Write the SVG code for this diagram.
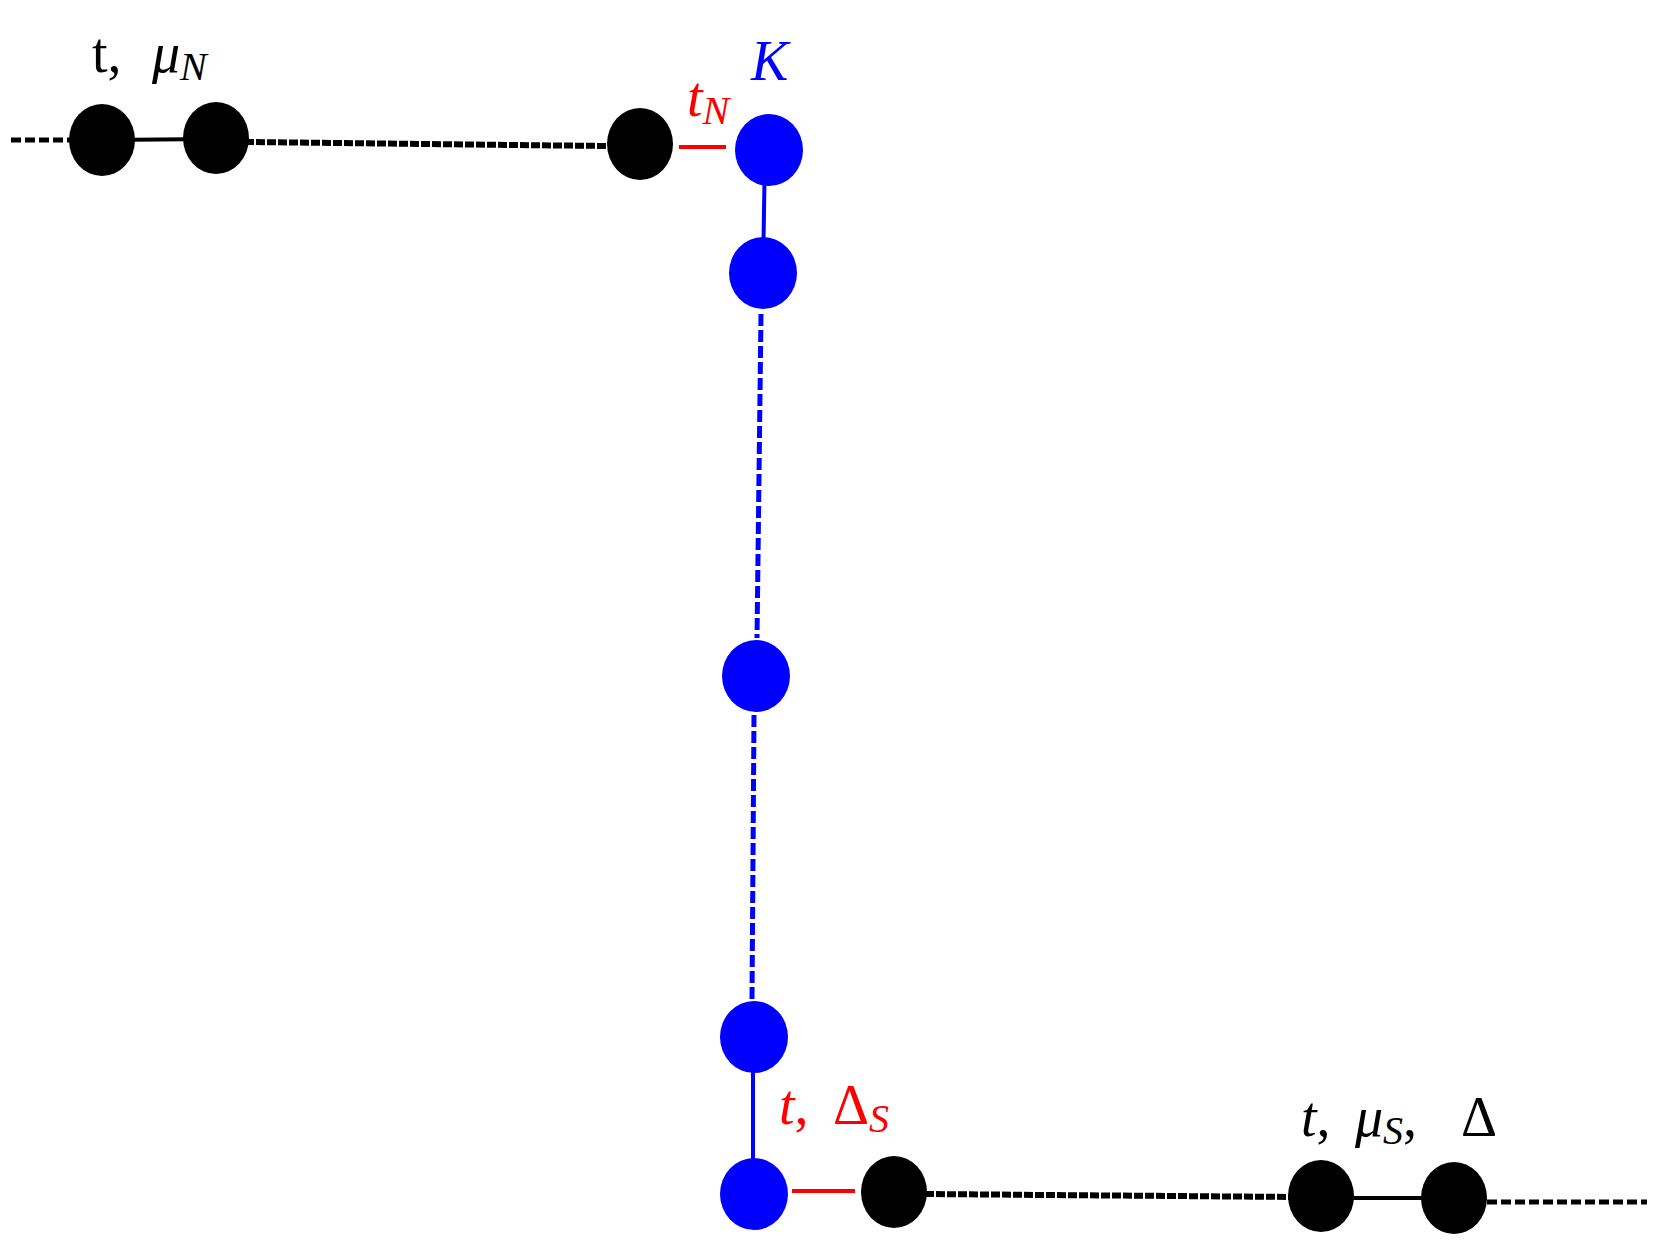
<svg xmlns="http://www.w3.org/2000/svg" width="1664" height="1256" viewBox="0 0 1664 1256">
<style>
.k{fill:#000}.b{fill:#0000ff}
.t{font-family:"Liberation Serif",serif;font-size:56px}
.i{font-style:italic}
.s{font-size:40px;font-style:italic}
</style>
<rect width="1664" height="1256" fill="#fff"/>
<g transform="translate(-5,-4)">
<g id="connectors" fill="none">
<line x1="16" y1="144" x2="75" y2="144" stroke="#000" stroke-width="5" stroke-dasharray="10,4"/>
<line x1="107" y1="144" x2="221" y2="143" stroke="#000" stroke-width="4"/>
<line x1="250" y1="146" x2="612" y2="150" stroke="#000" stroke-width="6" stroke-dasharray="9,2"/>
<line x1="684" y1="151" x2="731" y2="151" stroke="#f00" stroke-width="4"/>
<line x1="770" y1="154" x2="768" y2="277" stroke="#00f" stroke-width="4"/>
<line x1="766" y1="318" x2="762" y2="642" stroke="#00f" stroke-width="5" stroke-dasharray="12,4"/>
<line x1="759" y1="719" x2="757" y2="1003" stroke="#00f" stroke-width="5" stroke-dasharray="12,4"/>
<line x1="758" y1="1041" x2="758" y2="1198" stroke="#00f" stroke-width="4"/>
<line x1="797" y1="1195" x2="860" y2="1195" stroke="#f00" stroke-width="4"/>
<line x1="930" y1="1198" x2="1300" y2="1201" stroke="#000" stroke-width="6" stroke-dasharray="9,2"/>
<line x1="1326" y1="1202" x2="1459" y2="1202" stroke="#000" stroke-width="4"/>
<line x1="1492" y1="1206" x2="1652" y2="1206" stroke="#000" stroke-width="5" stroke-dasharray="10,4"/>
</g>
<g id="n1"><ellipse class="k" cx="107" cy="144" rx="33" ry="36"/></g>
<g id="n2"><ellipse class="k" cx="221" cy="142" rx="33" ry="36"/></g>
<g id="n3"><ellipse class="k" cx="645" cy="148" rx="33" ry="36"/></g>
<g id="b1"><ellipse class="b" cx="774" cy="154" rx="34" ry="36"/></g>
<g id="b2"><ellipse class="b" cx="768" cy="277" rx="34" ry="36"/></g>
<g id="b3"><ellipse class="b" cx="761" cy="680" rx="34" ry="36"/></g>
<g id="b4"><ellipse class="b" cx="759" cy="1041" rx="34" ry="36"/></g>
<g id="b5"><ellipse class="b" cx="759" cy="1198" rx="34" ry="36"/></g>
<g id="n4"><ellipse class="k" cx="899" cy="1196" rx="33" ry="36"/></g>
<g id="n5"><ellipse class="k" cx="1326" cy="1200" rx="33" ry="36"/></g>
<g id="n6"><ellipse class="k" cx="1459" cy="1202" rx="33" ry="36"/></g>
<g id="labels">
<text class="t" x="97" y="76">t,<tspan class="i" x="157">μ</tspan><tspan class="s" dy="8">N</tspan></text>
<text class="t i" x="756" y="84" fill="#00f">K</text>
<text class="t" x="692" y="120" fill="#f00"><tspan class="i">t</tspan><tspan class="s" dy="8">N</tspan></text>
<text class="t" x="784" y="1128" fill="#f00"><tspan class="i">t</tspan>,<tspan x="838">Δ</tspan><tspan class="s" dy="8">S</tspan></text>
<text class="t" x="1306" y="1140"><tspan class="i">t</tspan>,<tspan class="i" x="1360">μ</tspan><tspan class="s" dy="8">S</tspan><tspan dy="-8">,</tspan><tspan x="1466">Δ</tspan></text>
</g>
</g>
</svg>
